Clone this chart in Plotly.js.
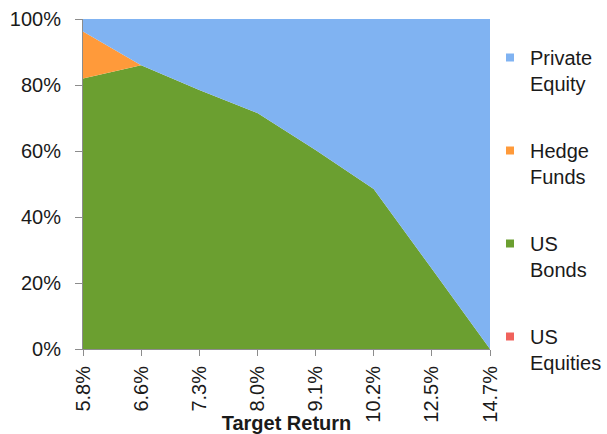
<!DOCTYPE html>
<html>
<head>
<meta charset="utf-8">
<script src="https://cdn.plot.ly/plotly-3.0.1.min.js"></script>
<style>
  html, body { margin: 0; padding: 0; background: #ffffff; }
  #chart { width: 607px; height: 434px; }
</style>
</head>
<body>
<div id="chart"></div>
<script>
// Category labels (target return)
const categories = ["5.8%", "6.6%", "7.3%", "8.0%", "9.1%", "10.2%", "12.5%", "14.7%"];

// Allocation shares (% of portfolio)
const usEquities    = [0, 0, 0, 0, 0, 0, 0, 0];
const usBonds       = [82, 86, 78.5, 71.5, 60.3, 48.5, 24.3, 0];
const hedgeFunds    = [14.2, 0, 0, 0, 0, 0, 0, 0];
const privateEquity = [3.8, 14, 21.5, 28.5, 39.7, 51.5, 75.7, 100];

// Series names (legend order top to bottom)
const seriesNames = ["Private<br>Equity", "Hedge<br>Funds", "US<br>Bonds", "US<br>Equities"];

// y-axis ticks
const yTickVals = [0, 20, 40, 60, 80, 100];
const yTickText = ["0%", "20%", "40%", "60%", "80%", "100%"];

const colors = {
  pe: "#80B3F2",
  hf: "#FF9A3A",
  bonds: "#6B9F30",
  eq: "#F0625C"
};

const FONT = "Liberation Sans, Arial, Helvetica, sans-serif";

function area(name, y, color, group) {
  return {
    type: "scatter",
    mode: "none",
    x: categories,
    y: y,
    name: name,
    stackgroup: "alloc",
    fill: "tonexty",
    fillcolor: color,
    line: { width: 0, color: color },
    showlegend: false,
    legendgroup: group,
    hoverinfo: "x+y+name"
  };
}

function legendEntry(name, color, group) {
  return {
    type: "scatter",
    mode: "markers",
    x: [null],
    y: [null],
    name: name,
    legendgroup: group,
    showlegend: true,
    marker: { symbol: "square", size: 8, color: color },
    hoverinfo: "skip"
  };
}

const data = [
  legendEntry(seriesNames[0], colors.pe, "pe"),
  legendEntry(seriesNames[1], colors.hf, "hf"),
  legendEntry(seriesNames[2], colors.bonds, "bonds"),
  legendEntry(seriesNames[3], colors.eq, "eq"),
  area("US Equities", usEquities, colors.eq, "eq"),
  area("US Bonds", usBonds, colors.bonds, "bonds"),
  area("Hedge Funds", hedgeFunds, colors.hf, "hf"),
  area("Private Equity", privateEquity, colors.pe, "pe")
];

const layout = {
  width: 607,
  height: 434,
  margin: { l: 83, r: 99, t: 19, b: 85, pad: 0 },
  paper_bgcolor: "#ffffff",
  plot_bgcolor: "#ffffff",
  font: { family: FONT, size: 20, color: "#1a1a1a" },
  showlegend: true,
  legend: {
    xref: "container",
    yref: "container",
    x: 490 / 607,
    y: 1 - 38 / 434,
    xanchor: "left",
    yanchor: "top",
    maxheight: 420,
    traceorder: "grouped",
    tracegroupgap: 38,
    valign: "top",
    bgcolor: "rgba(0,0,0,0)",
    font: { family: FONT, size: 20, color: "#1a1a1a" }
  },
  xaxis: {
    type: "category",
    range: [0, categories.length - 1],
    showgrid: false,
    zeroline: false,
    showline: true,
    linecolor: "#8c8c8c",
    linewidth: 1,
    ticks: "outside",
    ticklen: 6,
    tickcolor: "#8c8c8c",
    tickangle: -90,
    ticklabelstandoff: 2,
    tickfont: { family: FONT, size: 20, color: "#1a1a1a" },
    title: {
      text: "<b>Target Return</b>",
      font: { family: FONT, size: 20, color: "#1a1a1a" }
    },
    fixedrange: true
  },
  yaxis: {
    range: [0, 100],
    tickvals: yTickVals,
    ticktext: yTickText,
    showgrid: false,
    zeroline: false,
    showline: true,
    linecolor: "#8c8c8c",
    linewidth: 1,
    ticks: "outside",
    ticklen: 7,
    tickcolor: "#8c8c8c",
    ticklabelstandoff: 10,
    tickfont: { family: FONT, size: 20, color: "#1a1a1a" },
    fixedrange: true
  }
};

Plotly.newPlot("chart", data, layout, { displayModeBar: false, staticPlot: true });
</script>
</body>
</html>
